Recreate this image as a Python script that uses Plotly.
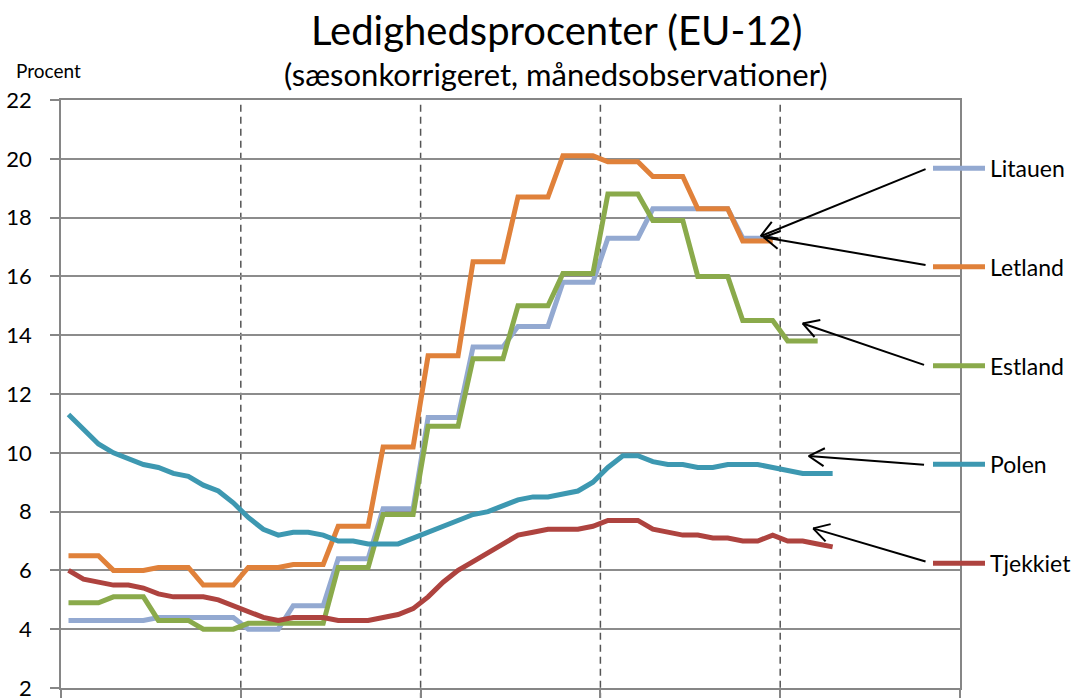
import math
import plotly.graph_objects as go

# ---------------- data (monthly, index 0 = first month of first year) ----------------
countries = ["Litauen", "Letland", "Estland", "Polen", "Tjekkiet"]

litauen = [4.3, 4.3, 4.3, 4.3, 4.3, 4.3, 4.4, 4.4, 4.4, 4.4, 4.4, 4.4,
           4.0, 4.0, 4.0, 4.8, 4.8, 4.8, 6.4, 6.4, 6.4, 8.1, 8.1, 8.1,
           11.2, 11.2, 11.2, 13.6, 13.6, 13.6, 14.3, 14.3, 14.3, 15.8, 15.8, 15.8,
           17.3, 17.3, 17.3, 18.3, 18.3, 18.3, 18.3, 18.3, 18.3, 17.3, 17.3, 17.3]

letland = [6.5, 6.5, 6.5, 6.0, 6.0, 6.0, 6.1, 6.1, 6.1, 5.5, 5.5, 5.5,
           6.1, 6.1, 6.1, 6.2, 6.2, 6.2, 7.5, 7.5, 7.5, 10.2, 10.2, 10.2,
           13.3, 13.3, 13.3, 16.5, 16.5, 16.5, 18.7, 18.7, 18.7, 20.1, 20.1, 20.1,
           19.9, 19.9, 19.9, 19.4, 19.4, 19.4, 18.3, 18.3, 18.3, 17.2, 17.2, 17.2]

estland = [4.9, 4.9, 4.9, 5.1, 5.1, 5.1, 4.3, 4.3, 4.3, 4.0, 4.0, 4.0,
           4.2, 4.2, 4.2, 4.2, 4.2, 4.2, 6.1, 6.1, 6.1, 7.9, 7.9, 7.9,
           10.9, 10.9, 10.9, 13.2, 13.2, 13.2, 15.0, 15.0, 15.0, 16.1, 16.1, 16.1,
           18.8, 18.8, 18.8, 17.9, 17.9, 17.9, 16.0, 16.0, 16.0, 14.5, 14.5, 14.5,
           13.8, 13.8, 13.8]

polen = [11.3, 10.8, 10.3, 10.0, 9.8, 9.6, 9.5, 9.3, 9.2, 8.9, 8.7, 8.3,
         7.8, 7.4, 7.2, 7.3, 7.3, 7.2, 7.0, 7.0, 6.9, 6.9, 6.9, 7.1,
         7.3, 7.5, 7.7, 7.9, 8.0, 8.2, 8.4, 8.5, 8.5, 8.6, 8.7, 9.0,
         9.5, 9.9, 9.9, 9.7, 9.6, 9.6, 9.5, 9.5, 9.6, 9.6, 9.6, 9.5,
         9.4, 9.3, 9.3, 9.3]

tjekkiet = [6.0, 5.7, 5.6, 5.5, 5.5, 5.4, 5.2, 5.1, 5.1, 5.1, 5.0, 4.8,
            4.6, 4.4, 4.3, 4.4, 4.4, 4.4, 4.3, 4.3, 4.3, 4.4, 4.5, 4.7,
            5.1, 5.6, 6.0, 6.3, 6.6, 6.9, 7.2, 7.3, 7.4, 7.4, 7.4, 7.5,
            7.7, 7.7, 7.7, 7.4, 7.3, 7.2, 7.2, 7.1, 7.1, 7.0, 7.0, 7.2,
            7.0, 7.0, 6.9, 6.8]

series = [litauen, letland, estland, polen, tjekkiet]
colors = ["#93A9D1", "#E0813A", "#8AAA4B", "#3D98B1", "#AE433F"]

n_months = 60          # five years of monthly observations
year_len = 12
y_ticks = list(range(2, 23, 2))

# legend label anchor values (in y units) and arrow geometry (tip / tail in data units)
legend_y = [19.68, 16.33, 12.96, 9.61, 6.24]
arrow_tip = [(46.2, 17.37), (46.4, 17.33), (49.0, 14.40), (49.4, 9.89), (49.7, 7.43)]
arrow_tail = [(57.2, 19.65), (57.2, 16.39), (57.1, 12.99), (57.1, 9.59), (57.2, 6.30)]

# ---------------- layout geometry ----------------
W, H = 1077, 698
ML, MR, MT, MB = 61, 117, 100, 10
PW, PH = W - ML - MR, H - MT - MB
X0, X1 = -0.5, n_months - 0.5
Y0, Y1 = 2, 22
sx = PW / (X1 - X0)     # px per x unit
sy = PH / (Y1 - Y0)     # px per y unit


def paper_x(px):
    return (px - ML) / PW


def paper_y(py):
    return (H - MB - py) / PH


FONT = "Lato, 'Open Sans', sans-serif"

fig = go.Figure()
for name, vals, col in zip(countries, series, colors):
    fig.add_trace(go.Scatter(
        x=list(range(len(vals))), y=vals, mode="lines", name=name,
        line=dict(color=col, width=5), hoverinfo="skip", showlegend=False))

shapes = []
# vertical dashed year separators
for k in range(1, n_months // year_len):
    xv = k * year_len - 0.5
    shapes.append(dict(type="line", xref="x", yref="paper", x0=xv, x1=xv,
                       y0=-0.02, y1=1, layer="below",
                       line=dict(color="#555555", width=1.5, dash="7px,5px")))

# custom legend line samples
for ly, col in zip(legend_y, colors):
    shapes.append(dict(type="line", xref="paper", yref="y",
                       x0=paper_x(933), x1=paper_x(985), y0=ly, y1=ly,
                       line=dict(color=col, width=5)))

# arrows (line + open V head)
for (tx, ty), (sx0, sy0) in zip(arrow_tip, arrow_tail):
    shapes.append(dict(type="line", xref="x", yref="y", x0=sx0, y0=sy0, x1=tx, y1=ty,
                       line=dict(color="black", width=2)))
    dx = (tx - sx0) * sx
    dy = -(ty - sy0) * sy
    ang = math.atan2(dy, dx)
    L = 18
    for s in (+1, -1):
        a = ang + math.pi + s * math.radians(30)
        ex = tx + L * math.cos(a) / sx
        ey = ty - L * math.sin(a) / sy
        shapes.append(dict(type="line", xref="x", yref="y", x0=tx, y0=ty, x1=ex, y1=ey,
                           line=dict(color="black", width=2)))

annotations = []
for name, ly in zip(countries, legend_y):
    annotations.append(dict(text=name, xref="paper", yref="y", x=paper_x(988), y=ly,
                            xanchor="left", yanchor="middle", showarrow=False,
                            font=dict(family=FONT, size=23, color="black")))

annotations.append(dict(text="Ledighedsprocenter (EU-12)", xref="paper", yref="paper",
                        x=paper_x(556), y=paper_y(30), xanchor="center", yanchor="middle",
                        showarrow=False, font=dict(family=FONT, size=40, color="black")))
annotations.append(dict(text="(sæsonkorrigeret, månedsobservationer)", xref="paper", yref="paper",
                        x=paper_x(556), y=paper_y(74), xanchor="center", yanchor="middle",
                        showarrow=False, font=dict(family=FONT, size=31, color="black")))
annotations.append(dict(text="Procent", xref="paper", yref="paper",
                        x=paper_x(48), y=paper_y(70), xanchor="center", yanchor="middle",
                        showarrow=False, font=dict(family=FONT, size=19, color="black")))

fig.update_layout(
    width=W, height=H,
    margin=dict(l=ML, r=MR, t=MT, b=MB, autoexpand=False),
    paper_bgcolor="white", plot_bgcolor="white",
    shapes=shapes, annotations=annotations,
    font=dict(family=FONT, color="black"),
)
fig.update_xaxes(range=[X0, X1], showgrid=False, zeroline=False,
                 tickmode="array", tickvals=[k * year_len - 0.5 for k in range(n_months // year_len + 1)],
                 showticklabels=False, ticks="outside", ticklen=10, tickcolor="#868686", tickwidth=1.5,
                 showline=True, linecolor="#868686", linewidth=1.5, mirror=True)
fig.update_yaxes(range=[Y0, Y1], tickmode="array", tickvals=y_ticks,
                 ticktext=[str(v) for v in y_ticks],
                 showgrid=True, gridcolor="#8C8C8C", gridwidth=1.5, zeroline=False,
                 ticks="outside", ticklen=9, tickcolor="#868686", tickwidth=1.5,
                 ticklabelstandoff=14, ticklabeloverflow="allow",
                 tickfont=dict(family=FONT, size=22, color="black"),
                 showline=True, linecolor="#868686", linewidth=1.5, mirror=True)

fig.write_html("out.html", config={"displayModeBar": False},
               post_script="document.body.style.margin='0';document.body.style.overflow='hidden';")
